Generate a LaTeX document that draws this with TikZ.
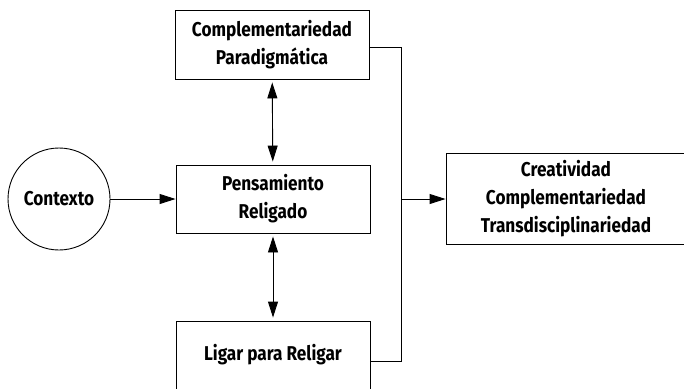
\documentclass[tikz,border=0pt]{standalone}
\usepackage{fontspec}
\setmainfont{Fira Sans}[FakeStretch=0.86]
\usetikzlibrary{arrows.meta}
\begin{document}
\begin{tikzpicture}[x=1pt,y=-1pt,
		caja/.style={draw,line width=0.9pt,align=center,font=\bfseries\fontsize{20}{28}\selectfont,inner sep=0pt},
		flecha/.style={line width=0.9pt,-{Triangle[length=16pt,width=10pt]}},
		doble/.style={line width=0.9pt,{Triangle[length=16pt,width=10pt]}-{Triangle[length=16pt,width=10pt]},shorten <=3pt,shorten >=3pt}]
		\useasboundingbox (0,0) rectangle (684,388);
		\node[caja,minimum width=194pt,minimum height=69pt] (compl) at (272,44.5) {Complementariedad\\Paradigmática};
		\node[caja,minimum width=194pt,minimum height=68pt] (pens) at (273,199) {Pensamiento\\Religado};
		\node[caja,minimum width=194pt,minimum height=68pt] (ligar) at (273,355) {Ligar para Religar};
		\node[caja,circle,minimum size=102pt] (ctx) at (59,199) {Contexto};
		\node[caja,minimum width=240pt,minimum height=91pt] (creat) at (566,198.5) {Creatividad\\Complementariedad\\Transdisciplinariedad};
		
		\coordinate (jt) at (401,47);
		\coordinate (jm) at (401,199);
		\coordinate (jb) at (401,361);
		
		\draw[flecha] (ctx) -- (pens);
		\draw[doble] (compl) -- (pens);
		\draw[doble] (pens) -- (ligar);
		\draw[line width=0.9pt] (compl.east |- jt) -- (jt) -- (jb) -- (ligar.east |- jb);
		\draw[flecha] (jm) -- (creat.west |- jm);
		\end{tikzpicture}
\end{document}
